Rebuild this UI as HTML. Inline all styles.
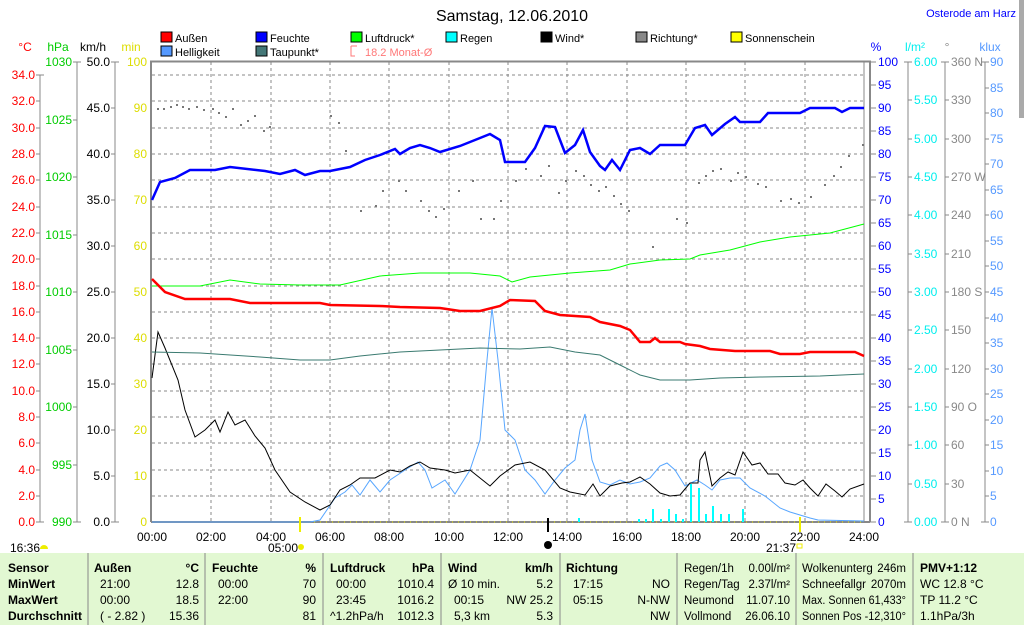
<!DOCTYPE html>
<html><head><meta charset="utf-8"><style>
body{margin:0;background:#fff;width:1024px;height:625px;overflow:hidden;font-family:"Liberation Sans",sans-serif}
svg text{font-family:"Liberation Sans",sans-serif;font-size:12px}
</style></head><body>
<svg width="1024" height="625" xmlns="http://www.w3.org/2000/svg">
<rect width="1024" height="625" fill="#fff"/>
<text x="512" y="21" font-size="16" text-anchor="middle" style="font-size:16px">Samstag, 12.06.2010</text>
<text x="1016" y="17" fill="#0000ff" text-anchor="end" style="font-size:11px">Osterode am Harz</text>
<rect x="1019" y="0" width="5" height="118" fill="#aaa"/>
<g style="font-size:11px">
<rect x="161" y="32" width="11" height="10" fill="#f00" stroke="#000"/><text x="175" y="42" style="font-size:11px">Außen</text>
<rect x="256" y="32" width="11" height="10" fill="#00f" stroke="#000"/><text x="270" y="42" style="font-size:11px">Feuchte</text>
<rect x="351" y="32" width="11" height="10" fill="#0f0" stroke="#000"/><text x="365" y="42" style="font-size:11px">Luftdruck*</text>
<rect x="446" y="32" width="11" height="10" fill="#0ff" stroke="#000"/><text x="460" y="42" style="font-size:11px">Regen</text>
<rect x="541" y="32" width="11" height="10" fill="#000" stroke="#000"/><text x="555" y="42" style="font-size:11px">Wind*</text>
<rect x="636" y="32" width="11" height="10" fill="#888" stroke="#000"/><text x="650" y="42" style="font-size:11px">Richtung*</text>
<rect x="731" y="32" width="11" height="10" fill="#ff0" stroke="#000"/><text x="745" y="42" style="font-size:11px">Sonnenschein</text>
<rect x="161" y="46" width="11" height="10" fill="#59f" stroke="#000"/><text x="175" y="56" style="font-size:11px">Helligkeit</text>
<rect x="256" y="46" width="11" height="10" fill="#477" stroke="#000"/><text x="270" y="56" style="font-size:11px">Taupunkt*</text>
<path d="M351 46h6M351 46v10h4" stroke="#f77" fill="none"/><text x="365" y="56" fill="#f77" style="font-size:11px">18.2 Monat-Ø</text>
</g>
<text x="25" y="51" fill="#f00" text-anchor="middle">°C</text>
<text x="58" y="51" fill="#0c0" text-anchor="middle">hPa</text>
<text x="93" y="51" text-anchor="middle">km/h</text>
<text x="131" y="51" fill="#dd0" text-anchor="middle">min</text>
<text x="876" y="51" fill="#00f" text-anchor="middle">%</text>
<text x="915" y="51" fill="#0ee" text-anchor="middle">l/m²</text>
<text x="947" y="51" fill="#888" text-anchor="middle">°</text>
<text x="990" y="51" fill="#59f" text-anchor="middle">klux</text>
<g stroke="#888" fill="none">
<line x1="40" y1="75" x2="40" y2="522"/><line x1="77" y1="62" x2="77" y2="522"/>
<line x1="115" y1="62" x2="115" y2="522"/>
<line x1="908" y1="62" x2="908" y2="522"/><line x1="945" y1="62" x2="945" y2="522"/><line x1="985" y1="62" x2="985" y2="522"/>
</g>
<g stroke="#888" stroke-dasharray="3,3" stroke-width="1">
<line x1="211" y1="62" x2="211" y2="522"/><line x1="271" y1="62" x2="271" y2="522"/><line x1="330" y1="62" x2="330" y2="522"/><line x1="389" y1="62" x2="389" y2="522"/><line x1="449" y1="62" x2="449" y2="522"/><line x1="508" y1="62" x2="508" y2="522"/><line x1="567" y1="62" x2="567" y2="522"/><line x1="627" y1="62" x2="627" y2="522"/><line x1="686" y1="62" x2="686" y2="522"/><line x1="745" y1="62" x2="745" y2="522"/><line x1="805" y1="62" x2="805" y2="522"/>
<line x1="152" y1="75" x2="864" y2="75"/><line x1="152" y1="101" x2="864" y2="101"/><line x1="152" y1="128" x2="864" y2="128"/><line x1="152" y1="154" x2="864" y2="154"/><line x1="152" y1="180" x2="864" y2="180"/><line x1="152" y1="207" x2="864" y2="207"/><line x1="152" y1="233" x2="864" y2="233"/><line x1="152" y1="259" x2="864" y2="259"/><line x1="152" y1="286" x2="864" y2="286"/><line x1="152" y1="312" x2="864" y2="312"/><line x1="152" y1="338" x2="864" y2="338"/><line x1="152" y1="364" x2="864" y2="364"/><line x1="152" y1="391" x2="864" y2="391"/><line x1="152" y1="417" x2="864" y2="417"/><line x1="152" y1="443" x2="864" y2="443"/><line x1="152" y1="470" x2="864" y2="470"/><line x1="152" y1="496" x2="864" y2="496"/>
</g>
<path d="M151 522V61.5H870V522" stroke="#888" stroke-width="2" fill="none"/>
<line x1="864" y1="62" x2="864" y2="522" stroke="#888"/>
<line x1="151" y1="522" x2="870" y2="522" stroke="#888" stroke-width="2"/>
<line x1="152" y1="522" x2="864" y2="522" stroke="#ee0" stroke-dasharray="1,5"/>
<g fill="#0ff">
<rect x="578" y="518" width="2" height="4"/><rect x="638" y="519" width="2" height="3"/><rect x="645" y="519" width="2" height="3"/><rect x="652" y="509" width="2" height="13"/><rect x="660" y="519" width="2" height="3"/><rect x="668" y="509" width="2" height="13"/><rect x="675" y="514" width="2" height="8"/><rect x="682" y="519" width="2" height="3"/><rect x="690" y="484" width="2" height="38"/><rect x="698" y="488" width="2" height="34"/><rect x="705" y="514" width="2" height="8"/><rect x="712" y="506" width="2" height="16"/><rect x="720" y="514" width="2" height="8"/><rect x="728" y="514" width="2" height="8"/><rect x="742" y="509" width="2" height="13"/>
</g>
<g fill="#777">
<rect x="157" y="108" width="2" height="2"/><rect x="163" y="108" width="2" height="2"/><rect x="170" y="106" width="2" height="2"/><rect x="176" y="104" width="2" height="2"/><rect x="182" y="106" width="2" height="2"/><rect x="188" y="108" width="2" height="2"/><rect x="196" y="106" width="2" height="2"/><rect x="203" y="109" width="2" height="2"/><rect x="212" y="108" width="2" height="2"/><rect x="218" y="112" width="2" height="2"/><rect x="225" y="116" width="2" height="2"/><rect x="232" y="108" width="2" height="2"/><rect x="240" y="124" width="2" height="2"/><rect x="247" y="120" width="2" height="2"/><rect x="254" y="115" width="2" height="2"/><rect x="263" y="130" width="2" height="2"/><rect x="269" y="126" width="2" height="2"/>
<rect x="330" y="115" width="2" height="2"/><rect x="338" y="122" width="2" height="2"/><rect x="345" y="150" width="2" height="2"/><rect x="360" y="210" width="2" height="2"/><rect x="375" y="205" width="2" height="2"/><rect x="382" y="190" width="2" height="2"/><rect x="398" y="180" width="2" height="2"/><rect x="405" y="190" width="2" height="2"/><rect x="420" y="200" width="2" height="2"/><rect x="428" y="210" width="2" height="2"/><rect x="435" y="216" width="2" height="2"/><rect x="443" y="208" width="2" height="2"/><rect x="458" y="190" width="2" height="2"/><rect x="472" y="180" width="2" height="2"/><rect x="480" y="218" width="2" height="2"/><rect x="493" y="218" width="2" height="2"/><rect x="500" y="200" width="2" height="2"/><rect x="515" y="180" width="2" height="2"/><rect x="525" y="168" width="2" height="2"/><rect x="540" y="175" width="2" height="2"/><rect x="548" y="165" width="2" height="2"/><rect x="558" y="192" width="2" height="2"/><rect x="565" y="180" width="2" height="2"/><rect x="575" y="170" width="2" height="2"/><rect x="583" y="175" width="2" height="2"/><rect x="590" y="184" width="2" height="2"/><rect x="598" y="190" width="2" height="2"/><rect x="605" y="186" width="2" height="2"/><rect x="613" y="195" width="2" height="2"/><rect x="620" y="203" width="2" height="2"/><rect x="628" y="210" width="2" height="2"/><rect x="652" y="246" width="2" height="2"/><rect x="676" y="218" width="2" height="2"/><rect x="686" y="222" width="2" height="2"/><rect x="698" y="182" width="2" height="2"/><rect x="705" y="175" width="2" height="2"/><rect x="712" y="170" width="2" height="2"/><rect x="720" y="168" width="2" height="2"/><rect x="730" y="180" width="2" height="2"/><rect x="737" y="172" width="2" height="2"/><rect x="745" y="176" width="2" height="2"/><rect x="757" y="183" width="2" height="2"/><rect x="765" y="186" width="2" height="2"/><rect x="780" y="200" width="2" height="2"/><rect x="790" y="198" width="2" height="2"/><rect x="798" y="202" width="2" height="2"/><rect x="810" y="196" width="2" height="2"/><rect x="824" y="184" width="2" height="2"/><rect x="833" y="175" width="2" height="2"/><rect x="840" y="166" width="2" height="2"/><rect x="848" y="155" width="2" height="2"/><rect x="862" y="144" width="2" height="2"/>
</g>
<polyline fill="none" stroke="#57a6ff" stroke-width="1" points="152,522 310,522 320,520 335,498 345,492 352,485 360,495 370,480 380,492 390,480 405,470 418,462 425,470 432,488 445,480 455,494 470,470 480,440 487,360 492,308 498,360 505,430 515,440 525,470 535,480 545,494 555,480 565,468 575,460 580,430 585,414 592,460 600,482 610,485 620,480 630,484 640,482 650,478 660,466 667,463 675,470 685,486 697,480 705,485 712,490 720,480 730,478 740,478 750,488 765,496 780,508 790,512 800,515 810,518 818,520 864,521"/>
<polyline fill="none" stroke="#000" stroke-width="1" points="152,378 158,332 165,348 178,380 185,410 195,437 205,430 215,420 220,432 228,412 235,425 245,420 255,436 265,448 275,470 290,492 305,502 320,510 330,505 340,490 350,485 360,478 375,478 390,470 400,472 410,466 420,462 430,468 445,470 455,473 470,470 480,478 490,486 500,476 515,465 530,462 545,470 560,488 570,492 585,495 593,484 600,496 610,486 622,483 630,482 640,477 650,484 660,493 670,496 680,495 690,483 698,483 700,460 705,452 712,486 720,478 728,472 735,475 743,452 752,465 760,463 768,474 778,474 785,483 795,485 803,480 810,488 818,496 826,484 835,491 842,497 850,489 864,484"/>
<polyline fill="none" stroke="#3a7a70" stroke-width="1" points="152,352 200,353 260,357 300,360 330,360 360,356 400,352 440,350 480,348 520,349 550,347 575,352 600,355 620,365 640,375 660,380 690,380 720,378 760,377 820,376 864,374"/>
<polyline fill="none" stroke="#00ff00" stroke-width="1" points="152,286 200,286 230,280 260,284 300,285 340,285 380,276 420,273 470,273 500,276 512,282 530,277 570,273 610,270 630,264 660,260 690,259 700,255 730,250 760,242 790,237 830,233 864,224"/>
<polyline fill="none" stroke="#f00" stroke-width="2.5" points="152,279 165,292 185,299 230,299 250,303 320,303 330,305 380,306 400,307 440,308 460,311 480,311 500,306 510,300 535,301 545,311 560,315 590,317 600,322 620,326 630,330 640,342 650,342 655,338 660,342 680,342 685,344 700,346 710,349 735,351 770,351 780,354 800,354 810,352 855,352 864,356"/>
<polyline fill="none" stroke="#0000ff" stroke-width="2.5" points="152,200 160,182 175,178 190,170 215,170 230,167 265,171 280,174 295,170 305,175 320,171 330,171 350,167 365,160 380,155 395,149 400,154 410,148 420,145 430,148 440,152 460,146 475,140 490,134 500,140 505,162 525,162 535,148 545,126 555,127 565,153 575,145 583,130 590,152 600,166 605,170 612,160 620,170 630,150 640,148 650,154 660,145 685,145 695,128 705,125 712,135 725,124 735,117 740,122 760,122 768,113 800,113 810,108 835,108 842,112 850,108 864,108"/>
<line x1="300" y1="517" x2="300" y2="532" stroke="#ee0" stroke-width="2"/>
<line x1="800" y1="517" x2="800" y2="532" stroke="#ee0" stroke-width="2"/>
<line x1="548" y1="518" x2="548" y2="532" stroke="#000" stroke-width="2"/>
<circle cx="548" cy="545" r="4" fill="#000"/>
<circle cx="301" cy="547" r="3" fill="#ee0"/>
<rect x="797" y="544" width="5" height="4" fill="none" stroke="#ee0"/>
<path d="M40 549a4 4 0 0 1 8 0z" fill="#ee0"/>
<g text-anchor="middle">
<text x="152" y="541">00:00</text><text x="211" y="541">02:00</text><text x="271" y="541">04:00</text><text x="330" y="541">06:00</text><text x="389" y="541">08:00</text><text x="449" y="541">10:00</text><text x="508" y="541">12:00</text><text x="567" y="541">14:00</text><text x="627" y="541">16:00</text><text x="686" y="541">18:00</text><text x="745" y="541">20:00</text><text x="805" y="541">22:00</text><text x="864" y="541">24:00</text>
</g>
<text x="10" y="552">16:36</text><text x="268" y="552">05:00</text><text x="766" y="552">21:37</text>
<g text-anchor="end" fill="#f00">
<text x="35" y="79">34.0</text><text x="35" y="105">32.0</text><text x="35" y="132">30.0</text><text x="35" y="158">28.0</text><text x="35" y="184">26.0</text><text x="35" y="211">24.0</text><text x="35" y="237">22.0</text><text x="35" y="263">20.0</text><text x="35" y="290">18.0</text><text x="35" y="316">16.0</text><text x="35" y="342">14.0</text><text x="35" y="368">12.0</text><text x="35" y="395">10.0</text><text x="35" y="421">8.0</text><text x="35" y="447">6.0</text><text x="35" y="474">4.0</text><text x="35" y="500">2.0</text><text x="35" y="526">0.0</text>
</g>
<g text-anchor="end" fill="#0c0">
<text x="72" y="66">1030</text><text x="72" y="124">1025</text><text x="72" y="181">1020</text><text x="72" y="239">1015</text><text x="72" y="296">1010</text><text x="72" y="354">1005</text><text x="72" y="411">1000</text><text x="72" y="469">995</text><text x="72" y="526">990</text>
</g>
<g text-anchor="end">
<text x="110" y="66">50.0</text><text x="110" y="112">45.0</text><text x="110" y="158">40.0</text><text x="110" y="204">35.0</text><text x="110" y="250">30.0</text><text x="110" y="296">25.0</text><text x="110" y="342">20.0</text><text x="110" y="388">15.0</text><text x="110" y="434">10.0</text><text x="110" y="480">5.0</text><text x="110" y="526">0.0</text>
</g>
<g text-anchor="end" fill="#dd0">
<text x="147" y="66">100</text><text x="147" y="112">90</text><text x="147" y="158">80</text><text x="147" y="204">70</text><text x="147" y="250">60</text><text x="147" y="296">50</text><text x="147" y="342">40</text><text x="147" y="388">30</text><text x="147" y="434">20</text><text x="147" y="480">10</text><text x="147" y="526">0</text>
</g>
<g stroke="#888">
<path d="M36 75h8M36 101h4M36 128h4M36 154h4M36 180h4M36 207h4M36 233h4M36 259h4M36 286h4M36 312h4M36 338h4M36 364h4M36 391h4M36 417h4M36 443h4M36 470h4M36 496h4M36 522h8"/>
<path d="M73 62h8M73 120h4M73 177h4M73 235h4M73 292h4M73 350h4M73 407h4M73 465h4M73 522h8"/>
<path d="M111 62h8M111 108h4M111 154h4M111 200h4M111 246h4M111 292h4M111 338h4M111 384h4M111 430h4M111 476h4M111 522h8"/>
<path d="M870 62h6M870 85h6M870 108h6M870 131h6M870 154h6M870 177h6M870 200h6M870 223h6M870 246h6M870 269h6M870 292h6M870 315h6M870 338h6M870 361h6M870 384h6M870 407h6M870 430h6M870 453h6M870 476h6M870 499h6M870 522h6"/>
<path d="M904 62h8M908 100h4M908 139h4M908 177h4M908 215h4M908 254h4M908 292h4M908 330h4M908 369h4M908 407h4M908 445h4M908 484h4M904 522h8"/>
<path d="M941 62h8M945 100h4M945 139h4M945 177h4M945 215h4M945 254h4M945 292h4M945 330h4M945 369h4M945 407h4M945 445h4M945 484h4M941 522h8"/>
<path d="M981 62h8M985 88h4M985 113h4M985 139h4M985 164h4M985 190h4M985 215h4M985 241h4M985 266h4M985 292h4M985 318h4M985 343h4M985 369h4M985 394h4M985 420h4M985 445h4M985 471h4M985 496h4M981 522h8"/>
</g>
<g fill="#00f">
<text x="878" y="66">100</text><text x="878" y="89">95</text><text x="878" y="112">90</text><text x="878" y="135">85</text><text x="878" y="158">80</text><text x="878" y="181">75</text><text x="878" y="204">70</text><text x="878" y="227">65</text><text x="878" y="250">60</text><text x="878" y="273">55</text><text x="878" y="296">50</text><text x="878" y="319">45</text><text x="878" y="342">40</text><text x="878" y="365">35</text><text x="878" y="388">30</text><text x="878" y="411">25</text><text x="878" y="434">20</text><text x="878" y="457">15</text><text x="878" y="480">10</text><text x="878" y="503">5</text><text x="878" y="526">0</text>
</g>
<g fill="#0ee">
<text x="914" y="66">6.00</text><text x="914" y="104">5.50</text><text x="914" y="143">5.00</text><text x="914" y="181">4.50</text><text x="914" y="219">4.00</text><text x="914" y="258">3.50</text><text x="914" y="296">3.00</text><text x="914" y="334">2.50</text><text x="914" y="373">2.00</text><text x="914" y="411">1.50</text><text x="914" y="449">1.00</text><text x="914" y="488">0.50</text><text x="914" y="526">0.00</text>
</g>
<g fill="#888">
<text x="951" y="66">360 N</text><text x="951" y="104">330</text><text x="951" y="143">300</text><text x="951" y="181">270 W</text><text x="951" y="219">240</text><text x="951" y="258">210</text><text x="951" y="296">180 S</text><text x="951" y="334">150</text><text x="951" y="373">120</text><text x="951" y="411">90  O</text><text x="951" y="449">60</text><text x="951" y="488">30</text><text x="951" y="526">0   N</text>
</g>
<g fill="#59f">
<text x="990" y="66">90</text><text x="990" y="92">85</text><text x="990" y="117">80</text><text x="990" y="143">75</text><text x="990" y="168">70</text><text x="990" y="194">65</text><text x="990" y="219">60</text><text x="990" y="245">55</text><text x="990" y="270">50</text><text x="990" y="296">45</text><text x="990" y="322">40</text><text x="990" y="347">35</text><text x="990" y="373">30</text><text x="990" y="398">25</text><text x="990" y="424">20</text><text x="990" y="449">15</text><text x="990" y="475">10</text><text x="990" y="500">5</text><text x="990" y="526">0</text>
</g>
<rect x="0" y="553" width="1024" height="72" fill="#e2f8d2"/>
<g stroke="#888"><path d="M88 553v72M205 553v72M323 553v72M441 553v72M560 553v72M677 553v72M796 553v72M913 553v72"/></g>
<g font-weight="bold">
<text x="8" y="572" font-weight="bold">Sensor</text><text x="8" y="588" font-weight="bold">MinWert</text><text x="8" y="604" font-weight="bold">MaxWert</text><text x="8" y="620" font-weight="bold">Durchschnitt</text>
<text x="94" y="572" font-weight="bold">Außen</text><text x="199" y="572" text-anchor="end" font-weight="bold">°C</text>
<text x="212" y="572" font-weight="bold">Feuchte</text><text x="316" y="572" text-anchor="end" font-weight="bold">%</text>
<text x="330" y="572" font-weight="bold">Luftdruck</text><text x="434" y="572" text-anchor="end" font-weight="bold">hPa</text>
<text x="448" y="572" font-weight="bold">Wind</text><text x="553" y="572" text-anchor="end" font-weight="bold">km/h</text>
<text x="566" y="572" font-weight="bold">Richtung</text>
<text x="920" y="572" font-weight="bold">PMV+1:12</text>
</g>
<text x="100" y="588">21:00</text><text x="199" y="588" text-anchor="end">12.8</text>
<text x="100" y="604">00:00</text><text x="199" y="604" text-anchor="end">18.5</text>
<text x="100" y="620">( - 2.82 )</text><text x="199" y="620" text-anchor="end">15.36</text>
<text x="218" y="588">00:00</text><text x="316" y="588" text-anchor="end">70</text>
<text x="218" y="604">22:00</text><text x="316" y="604" text-anchor="end">90</text>
<text x="316" y="620" text-anchor="end">81</text>
<text x="336" y="588">00:00</text><text x="434" y="588" text-anchor="end">1010.4</text>
<text x="336" y="604">23:45</text><text x="434" y="604" text-anchor="end">1016.2</text>
<text x="330" y="620">^1.2hPa/h</text><text x="434" y="620" text-anchor="end">1012.3</text>
<text x="448" y="588">Ø 10 min.</text><text x="553" y="588" text-anchor="end">5.2</text>
<text x="454" y="604">00:15</text><text x="553" y="604" text-anchor="end">NW 25.2</text>
<text x="454" y="620">5,3 km</text><text x="553" y="620" text-anchor="end">5.3</text>
<text x="573" y="588">17:15</text><text x="670" y="588" text-anchor="end">NO</text>
<text x="573" y="604">05:15</text><text x="670" y="604" text-anchor="end">N-NW</text>
<text x="670" y="620" text-anchor="end">NW</text>
<g style="font-size:11.5px">
<text x="684" y="572" style="font-size:11.5px">Regen/1h</text><text x="790" y="572" text-anchor="end" style="font-size:11.5px">0.00l/m²</text>
<text x="684" y="588" style="font-size:11.5px">Regen/Tag</text><text x="790" y="588" text-anchor="end" style="font-size:11.5px">2.37l/m²</text>
<text x="684" y="604" style="font-size:11.5px">Neumond</text><text x="790" y="604" text-anchor="end" style="font-size:11.5px">11.07.10</text>
<text x="684" y="620" style="font-size:11.5px">Vollmond</text><text x="790" y="620" text-anchor="end" style="font-size:11.5px">26.06.10</text>
<text x="802" y="572" style="font-size:11.5px">Wolkenunterg</text><text x="906" y="572" text-anchor="end" style="font-size:11.5px">246m</text>
<text x="802" y="588" style="font-size:11.5px">Schneefallgr</text><text x="906" y="588" text-anchor="end" style="font-size:11.5px">2070m</text>
<text x="802" y="604" textLength="104" lengthAdjust="spacingAndGlyphs" style="font-size:11.5px">Max. Sonnen 61,433°</text>
<text x="802" y="620" textLength="104" lengthAdjust="spacingAndGlyphs" style="font-size:11.5px">Sonnen Pos  -12,310°</text>
</g>
<text x="920" y="588">WC 12.8 °C</text><text x="920" y="604">TP 11.2 °C</text><text x="920" y="620">1.1hPa/3h</text>
</svg>
</body></html>
